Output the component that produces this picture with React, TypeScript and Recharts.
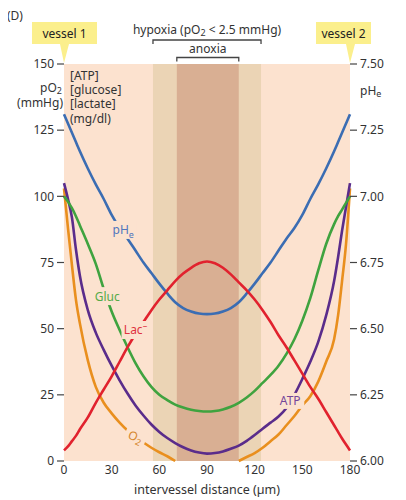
import React from 'react';
import { LineChart, Line, XAxis, YAxis, ReferenceArea, ReferenceDot } from 'recharts';

const distance = [0, 2.5, 5, 7.5, 10, 15, 20, 25, 30, 35, 40, 45, 50, 55, 60, 65, 70, 75, 80, 85, 90, 95, 100, 105, 110, 115, 120, 125, 130, 135, 140, 145, 150, 155, 160, 165, 170, 172.5, 175, 177.5, 180];
const o2 = [103, 88, 74, 61, 52, 38, 28, 22, 18, 14.5, 11.5, 9, 7, 5, 3.3, 1.8, 0, null, null, null, null, null, null, null, 0, 1.5, 3, 5, 7.5, 10, 13.5, 17, 21, 24.5, 30, 37.5, 46, 55, 68, 82, 103];
const atp = [105, 99, 92, 80, 70, 57, 48.5, 42, 36, 30.5, 25.5, 21, 17.2, 13.8, 11, 8.7, 6.8, 5.2, 4, 3.2, 2.8, 3, 3.6, 4.6, 5.8, 7.6, 9.8, 12.2, 14.5, 16.8, 20, 25, 31, 37.5, 45, 55, 68, 77, 87, 96, 105];
const glucose = [100, 98, 95.5, 92.5, 89, 82, 74.5, 65, 56.5, 49.5, 43, 37, 32, 28, 25, 23, 21.3, 20.2, 19.4, 18.9, 18.7, 18.9, 19.5, 20.5, 22, 24, 26.5, 29.5, 32.5, 36, 40.5, 46, 53, 61.5, 72, 82, 89.5, 92.5, 95, 97.5, 100];
const lactate = [4, 5.5, 7.5, 9.5, 12, 16.5, 22, 27, 32, 37.5, 43, 48, 52.5, 57, 61, 64.5, 68, 70.8, 73, 74.7, 75.4, 74.7, 73, 70.5, 67.5, 64.5, 61, 57, 52.5, 47.5, 43, 38, 33, 28, 23.5, 18.5, 13.5, 11, 8.5, 6.2, 4];
const pHe = [7.31, 7.275, 7.24, 7.205, 7.17, 7.105, 7.045, 6.99, 6.93, 6.88, 6.84, 6.795, 6.75, 6.71, 6.67, 6.633, 6.6, 6.578, 6.565, 6.557, 6.555, 6.557, 6.565, 6.578, 6.6, 6.633, 6.67, 6.71, 6.75, 6.795, 6.84, 6.88, 6.93, 6.99, 7.045, 7.105, 7.17, 7.205, 7.24, 7.275, 7.31];

const xTicks = [0, 30, 60, 90, 120, 150, 180];
const leftTicks = [0, 25, 50, 75, 100, 125, 150];
const mgTicks = [90, 180, 270];
const rightTicks = [6, 6.25, 6.5, 6.75, 7, 7.25, 7.5];
const hypoxiaRange = [56, 124];
const anoxiaRange = [71, 110];
const vesselPositions = [0, 180];
const vesselNames = ['vessel 1', 'vessel 2'];

const data = distance.map((d, i) => ({
  d,
  o2: o2[i],
  atp: atp[i],
  gluc: glucose[i],
  lac: lactate[i],
  ph: pHe[i],
}));

const FONT = '"Noto Sans", "Open Sans", sans-serif';
const TXT = '#333';
const BG = '#FCE2CF';
const HYPOX = '#EBD4B5';
const ANOX = '#D9AF93';

const C = {
  ph: '#3B6DB3',
  gluc: '#3FA33F',
  lac: '#E1222E',
  atp: '#5A2C8B',
  o2: '#E98F1E',
};

const Bracket = (props: any) => {
  const { viewBox, text, barOff, textOff } = props;
  if (!viewBox) return null;
  const { x, y, width } = viewBox;
  const by = y - barOff;
  return (
    <g>
      <path d={`M${x},${by + 4} V${by} H${x + width} V${by + 4}`} fill="none" stroke="#444" strokeWidth={1.3} />
      <text x={x + width / 2} y={y - textOff} textAnchor="middle" dominantBaseline="central" fontSize={12} fontFamily={FONT} fill={TXT}>
        {text}
      </text>
    </g>
  );
};

const HypoxiaText = (
  <tspan>
    hypoxia (pO<tspan fontSize={9} dy={3}>2</tspan>
    <tspan dy={-3}> &lt; 2.5 mmHg)</tspan>
  </tspan>
);

const Callout = (props: any) => {
  const { cx, cy, idx } = props;
  const left = idx === 0 ? -32 : -34;
  const right = idx === 0 ? 33 : 21;
  const top = cy - 42;
  const bot = cy - 20;
  return (
    <g>
      <path
        d={`M${cx + left},${top} H${cx + right} V${bot} H${cx + 5} L${cx},${cy - 1} L${cx - 4},${bot} H${cx + left} Z`}
        fill="#FBEF8C"
      />
      <text x={cx + (left + right) / 2} y={(top + bot) / 2} textAnchor="middle" dominantBaseline="central" fontSize={12} fontFamily={FONT} fill="#222">
        {vesselNames[idx]}
      </text>
    </g>
  );
};

const CurveLabel = (props: any) => {
  const { cx, cy, w, h, color, children, rot } = props;
  return (
    <g transform={rot ? `rotate(${rot} ${cx} ${cy})` : undefined}>
      <rect x={cx - w / 2} y={cy - h / 2} width={w} height={h} fill={BG} />
      <text x={cx} y={cy} textAnchor="middle" dominantBaseline="central" fontSize={12} fontFamily={FONT} fill={color}>
        {children}
      </text>
    </g>
  );
};

const LeftTitle = (props: any) => {
  const { viewBox } = props;
  if (!viewBox) return null;
  const { x, y, width } = viewBox;
  const r = x + width - 2;
  const ix = x + width + 6;
  const t = { fontSize: 12, fontFamily: FONT, fill: TXT } as any;
  return (
    <g>
      <text x={r} y={y + 23} textAnchor="end" dominantBaseline="central" {...t}>
        pO<tspan fontSize={9} dy={3}>2</tspan>
      </text>
      <text x={r + 1} y={y + 38} textAnchor="end" dominantBaseline="central" {...t}>(mmHg)</text>
      <text x={ix} y={y + 11} dominantBaseline="central" {...t}>[ATP]</text>
      <text x={ix} y={y + 25.5} dominantBaseline="central" {...t}>[glucose]</text>
      <text x={ix} y={y + 39.5} dominantBaseline="central" {...t}>[lactate]</text>
      <text x={ix} y={y + 54} dominantBaseline="central" {...t}>(mg/dl)</text>
    </g>
  );
};

const RightTitle = (props: any) => {
  const { viewBox } = props;
  if (!viewBox) return null;
  const { x, y } = viewBox;
  return (
    <text x={x + 10} y={y + 26} dominantBaseline="central" fontSize={12} fontFamily={FONT} fill={TXT}>
      pH<tspan fontSize={9} dy={3}>e</tspan>
    </text>
  );
};

export default function App() {
  const tick = { fill: TXT, fontSize: 12, fontFamily: FONT };
  return (
    <div style={{ position: 'relative', width: 390, height: 490 }}>
      <div style={{ position: 'absolute', left: -1, top: -1, fontFamily: FONT, fontSize: 12, color: TXT }}>(D)</div>
      <LineChart width={390} height={490} data={data} margin={{ top: 56, right: 0, bottom: 0, left: 0 }}>
        <XAxis
          dataKey="d"
          type="number"
          domain={[0, 180]}
          ticks={xTicks}
          interval={0}
          axisLine={false}
          tickLine={false}
          tickSize={0}
          tickMargin={4}
          height={37}
          tick={tick}
          label={{ value: 'intervessel distance (µm)', position: 'insideBottom', offset: 4, fill: TXT, fontSize: 12.5, fontFamily: FONT }}
        />
        <YAxis
          yAxisId="l"
          domain={[0, 150]}
          ticks={leftTicks}
          interval={0}
          width={56}
          axisLine={false}
          tickLine={{ stroke: '#444', strokeWidth: 1.2 }}
          tickSize={7}
          tickMargin={3}
          tick={tick}
          label={<LeftTitle />}
        />
        <YAxis
          yAxisId="mg"
          domain={[0, 540]}
          ticks={mgTicks}
          interval={0}
          mirror
          width={0}
          axisLine={false}
          tickLine={false}
          tickSize={0}
          tickMargin={8}
          tick={tick}
        />
        <YAxis
          yAxisId="r"
          orientation="right"
          domain={[6, 7.5]}
          ticks={rightTicks}
          interval={0}
          width={48}
          axisLine={false}
          tickLine={{ stroke: '#444', strokeWidth: 1.2 }}
          tickSize={7}
          tickMargin={3}
          tick={tick}
          tickFormatter={(v: number) => v.toFixed(2)}
          label={<RightTitle />}
        />
        <ReferenceArea yAxisId="l" x1={0} x2={180} y1={0} y2={150} fill={BG} fillOpacity={1} stroke="none" />
        <ReferenceArea
          yAxisId="l"
          x1={hypoxiaRange[0]}
          x2={hypoxiaRange[1]}
          y1={0}
          y2={150}
          fill={HYPOX}
          fillOpacity={1}
          stroke="none"
          label={<Bracket text={HypoxiaText} barOff={24} textOff={35} />}
        />
        <ReferenceArea
          yAxisId="l"
          x1={anoxiaRange[0]}
          x2={anoxiaRange[1]}
          y1={0}
          y2={150}
          fill={ANOX}
          fillOpacity={1}
          stroke="none"
          label={<Bracket text="anoxia" barOff={6.5} textOff={16} />}
        />
        <Line yAxisId="r" type="monotone" dataKey="ph" stroke={C.ph} strokeWidth={2.6} dot={false} isAnimationActive={false} />
        <Line yAxisId="l" type="monotone" dataKey="o2" stroke={C.o2} strokeWidth={2.6} dot={false} isAnimationActive={false} connectNulls={false} />
        <Line yAxisId="l" type="monotone" dataKey="atp" stroke={C.atp} strokeWidth={2.6} dot={false} isAnimationActive={false} />
        <Line yAxisId="l" type="monotone" dataKey="gluc" stroke={C.gluc} strokeWidth={2.6} dot={false} isAnimationActive={false} />
        <Line yAxisId="l" type="monotone" dataKey="lac" stroke={C.lac} strokeWidth={2.6} dot={false} isAnimationActive={false} />
        <ReferenceDot yAxisId="l" x={37.3} y={87.3} ifOverflow="visible" shape={(p: any) => (
          <CurveLabel {...p} w={26} h={18} color="#5277BD">pH<tspan fontSize={9} dy={4}>e</tspan></CurveLabel>
        )} />
        <ReferenceDot yAxisId="l" x={27.2} y={62.3} ifOverflow="visible" shape={(p: any) => (
          <CurveLabel {...p} w={30} h={18} color="#55AA48">Gluc</CurveLabel>
        )} />
        <ReferenceDot yAxisId="l" x={45} y={49.5} ifOverflow="visible" shape={(p: any) => (
          <CurveLabel {...p} w={28} h={18} color="#DF3240">Lac<tspan fontSize={9} dy={-5}>–</tspan></CurveLabel>
        )} />
        <ReferenceDot yAxisId="l" x={45} y={9.2} ifOverflow="visible" shape={(p: any) => (
          <CurveLabel {...p} w={22} h={16} rot={25} color="#D5862C">O<tspan fontSize={9} dy={3}>2</tspan></CurveLabel>
        )} />
        <ReferenceDot yAxisId="l" x={142.4} y={22.7} ifOverflow="visible" shape={(p: any) => (
          <CurveLabel {...p} w={28} h={16} color="#74479A">ATP</CurveLabel>
        )} />
        {vesselPositions.map((vx, i) => (
          <ReferenceDot key={i} yAxisId="l" x={vx} y={150} ifOverflow="visible" shape={(p: any) => <Callout {...p} idx={i} />} />
        ))}
      </LineChart>
    </div>
  );
}
